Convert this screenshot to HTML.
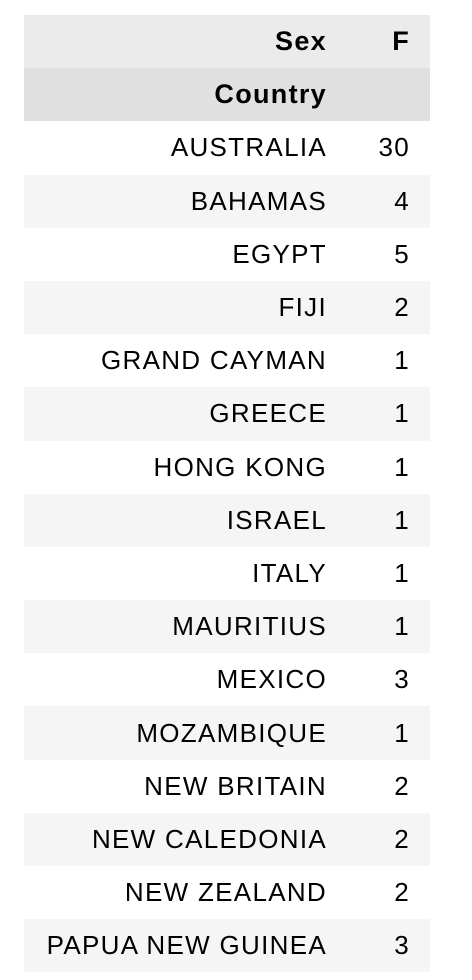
<!DOCTYPE html>
<html><head><meta charset="utf-8"><style>
body{margin:0;background:#fff;font-family:"Liberation Sans",Arial,sans-serif;}
table{position:absolute;left:24px;top:15px;width:406px;border-collapse:collapse;font-size:26px;letter-spacing:1.3px;color:#000;}
td,th{height:53.2px;padding:0;text-align:right;box-sizing:border-box;}
td.l,th.l{width:304px;padding-right:1px;}
td.v,th.v{padding-right:20px;}
th{letter-spacing:1.3px;font-size:27px;}
tr.h1{background:#ebebeb}
tr.h2{background:#e0e0e0}
tbody tr:nth-child(even){background:#f5f5f5}
</style></head><body>
<table>
<thead>
<tr class="h1"><th class="l">Sex</th><th class="v">F</th></tr>
<tr class="h2"><th class="l">Country</th><th class="v"></th></tr>
</thead>
<tbody id="tb"></tbody>
</table>
<script>
const countries=["AUSTRALIA","BAHAMAS","EGYPT","FIJI","GRAND CAYMAN","GREECE","HONG KONG","ISRAEL","ITALY","MAURITIUS","MEXICO","MOZAMBIQUE","NEW BRITAIN","NEW CALEDONIA","NEW ZEALAND","PAPUA NEW GUINEA"];
const values=[30,4,5,2,1,1,1,1,1,1,3,1,2,2,2,3];
const tb=document.getElementById('tb');
countries.forEach((c,i)=>{
  const tr=document.createElement('tr');
  
  
  const a=document.createElement('td');a.className='l';a.textContent=c;
  
  
  const b=document.createElement('td');b.className='v';b.textContent=values[i];
  
  
  tr.appendChild(a);tr.appendChild(b);tb.appendChild(tr);
});
</script>
</body></html>
